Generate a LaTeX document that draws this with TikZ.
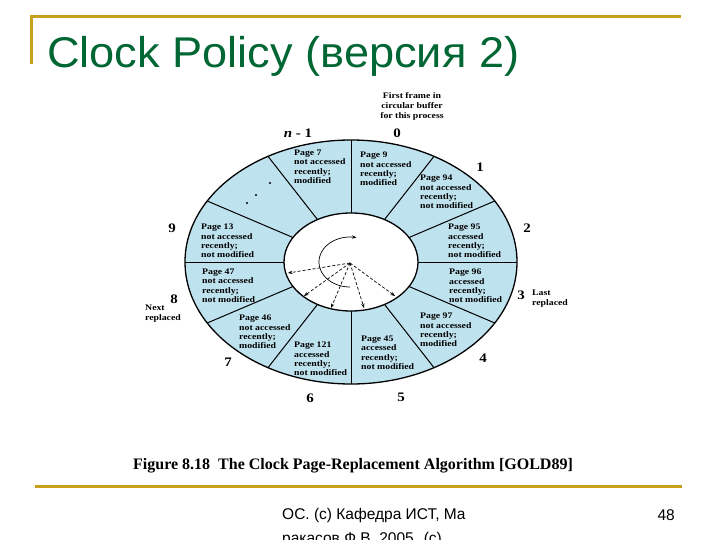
\documentclass[tikz,border=0pt]{standalone}
\usepackage{fontspec}
\setmainfont{Liberation Serif}
\newfontfamily\titlefont[FakeStretch=1.05]{Liberation Sans}
\newfontfamily\footfont{Liberation Sans}
\newfontfamily\diafont[FakeStretch=1.15]{Liberation Serif}
\usetikzlibrary{arrows.meta}
\definecolor{gold}{RGB}{200,160,30}
\definecolor{titlegreen}{RGB}{0,102,51}
\definecolor{ringblue}{RGB}{190,226,238}
\tikzset{
  sect/.style={anchor=north west, inner sep=0pt, align=left, font=\diafont\bfseries\fontsize{8.5}{9.2}\selectfont},
  num/.style={inner sep=0pt, font=\diafont\bfseries\fontsize{13}{13}\selectfont},
  note/.style={inner sep=0pt, align=left, font=\diafont\bfseries\fontsize{8.5}{10}\selectfont},
  goldline/.style={draw=gold, line width=3pt},
  spoke/.style={draw=black, line width=1pt},
  ptr/.style={line width=0.7pt, dash pattern=on 3pt off 2pt, -{Stealth[length=4.5pt,width=3.5pt]}},
}
\begin{document}
\begin{tikzpicture}[x=1pt,y=-1pt]
\useasboundingbox (0,0) rectangle (720,540);
% slide decoration
\draw[goldline] (30,17) -- (681,17);
\draw[goldline] (31.5,17) -- (31.5,64);
\draw[goldline] (35,486) -- (682,486);
\node[anchor=base west, inner sep=0pt, text=titlegreen, font=\titlefont\fontsize{43}{43}\selectfont] (title) at (47,68) {Clock Policy (версия 2)};

% ring
\fill[ringblue] (351,262) ellipse [x radius=166, y radius=122];
\foreach \t in {0,30,...,330}
  \draw[spoke] ({351+67*cos(\t)},{262-49*sin(\t)}) -- ({351+166*cos(\t)},{262-122*sin(\t)});
\draw[line width=1.3pt, fill=white] (351,262) ellipse [x radius=67, y radius=49];
\draw[line width=1.3pt] (351,262) ellipse [x radius=166, y radius=122];

% sector texts
\node[sect] (p7)   at (294,150) {Page 7\\not accessed\\recently;\\modified};
\node[sect] (p9)   at (360,152) {Page 9\\not accessed\\recently;\\modified};
\node[sect] (p94)  at (420,175) {Page 94\\not accessed\\recently;\\not modified};
\node[sect] (p95)  at (448,224) {Page 95\\accessed\\recently;\\not modified};
\node[sect] (p96)  at (449,269) {Page 96\\accessed\\recently;\\not modified};
\node[sect] (p97)  at (420,313) {Page 97\\not accessed\\recently;\\modified};
\node[sect] (p45)  at (361,336) {Page 45\\accessed\\recently;\\not modified};
\node[sect] (p121) at (294,342) {Page 121\\accessed\\recently;\\not modified};
\node[sect] (p46)  at (239,315) {Page 46\\not accessed\\recently;\\modified};
\node[sect] (p47)  at (202,269) {Page 47\\not accessed\\recently;\\not modified};
\node[sect] (p13)  at (201,224) {Page 13\\not accessed\\recently;\\not modified};
\fill (270,183) circle (1.1) (256,195) circle (1.1) (247,203) circle (1.1);

% frame numbers
\node[num] (nm1) at (298,133) {{\itshape n} - 1};
\node[num] (n0) at (397,133) {0};
\node[num] (n1) at (480,167) {1};
\node[num] (n2) at (527,228) {2};
\node[num] (n3) at (521,295) {3};
\node[num] (n4) at (483,358) {4};
\node[num] (n5) at (401,397) {5};
\node[num] (n6) at (310,398) {6};
\node[num] (n7) at (228,362) {7};
\node[num] (n8) at (174,299) {8};
\node[num] (n9) at (172,228) {9};

\node[note, align=center] (first) at (412,106) {First frame in\\circular buffer\\for this process};
\node[note, anchor=north west] (last) at (532,290) {Last\\replaced};
\node[note, anchor=north west] (next) at (145,305) {Next\\replaced};

% pointer arrows
\coordinate (hub) at (350,263);
\coordinate (a1) at (288,273);
\coordinate (a2) at (304,296);
\coordinate (a3) at (331,308);
\coordinate (a4) at (364,308);
\coordinate (a5) at (395,296);
\foreach \e in {a1,a2,a3,a4,a5} \draw[ptr] (hub) -- (\e);
\draw[line width=0.7pt, -{Stealth[length=4.5pt,width=3.5pt]}] plot[domain=90:282, samples=50] ({350+31*cos(\x)},{262+25*sin(\x)});

% caption
\node[anchor=base west, inner sep=0pt, font=\bfseries\fontsize{16}{16}\selectfont] (cap) at (133,469) {Figure 8.18\ \ The Clock Page-Replacement Algorithm [GOLD89]};

% footer
\node[anchor=north west, inner sep=0pt, align=left, font=\footfont\fontsize{15.5}{24}\selectfont] (foot) at (282,508) {ОС. (с) Кафедра ИСТ, Ма\\ракасов Ф.В. 2005. (с)};
\node[anchor=base east, inner sep=0pt, font=\footfont\fontsize{15.5}{16}\selectfont] (pg) at (675,520) {48};
\end{tikzpicture}
\end{document}
